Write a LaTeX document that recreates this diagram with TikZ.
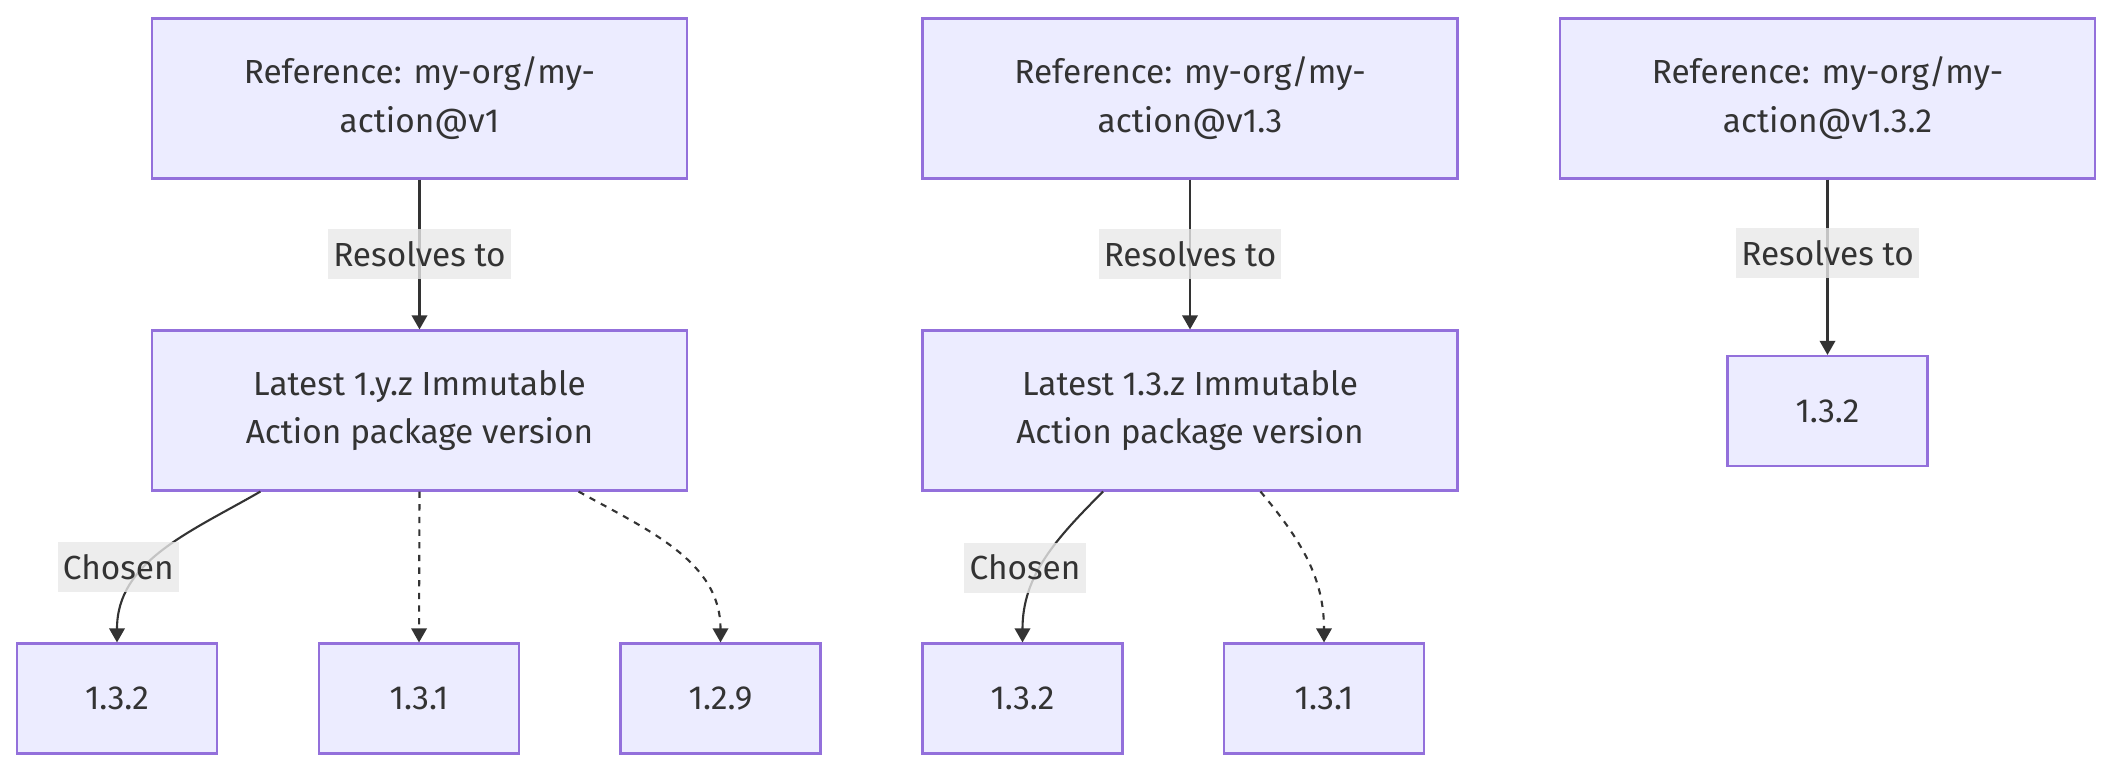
\documentclass[tikz,border=0pt]{standalone}
\usepackage{fontspec}
\setmainfont{Fira Sans}
\usetikzlibrary{arrows.meta}

\definecolor{boxfill}{HTML}{ECECFF}
\definecolor{boxline}{HTML}{9370DB}
\definecolor{ink}{HTML}{333333}
\definecolor{lblfill}{HTML}{E8E8E8}

\begin{document}
\begin{tikzpicture}[
  font=\fontsize{9.5}{13.9}\selectfont,
  text=ink,
  >={Triangle[length=4pt,width=4.4pt]},
  box/.style={
    draw=boxline,
    fill=boxfill,
    line width=0.6pt,
    align=center,
    inner sep=0pt
  },
  refbox/.style={box, minimum width=5.35cm, minimum height=1.6cm},
  verbox/.style={box, minimum width=2cm, minimum height=1.1cm},
  lbl/.style={
    fill=lblfill,
    fill opacity=0.8,
    text opacity=1,
    inner sep=1.5pt,
    minimum height=0.5cm
  },
  arr/.style={->, draw=ink, line width=0.6pt},
  opt/.style={arr, dash pattern=on 1.8pt off 1.8pt}
]

\useasboundingbox (0,0) rectangle (21.12,-7.72);

\def\xA{4.195}
\def\xB{11.9}
\def\xC{18.275}
\def\yT{-0.985}
\def\yM{-4.105}
\def\yL{-6.985}

% v1 -- major tag
\node[refbox] (ref1) at (\xA,\yT) {Reference: my-org/my-\\action@v1};
\node[refbox] (res1) at (\xA,\yM) {Latest 1.y.z Immutable\\Action package version};
\node[verbox] (v1a) at (1.17,\yL) {1.3.2};
\node[verbox] (v1b) at (4.19,\yL) {1.3.1};
\node[verbox] (v1c) at (7.205,\yL) {1.2.9};

\draw[arr] (ref1) -- node[lbl] {Resolves to} (res1);
\draw[arr] (res1.207) to[out=210,in=90]
  node[lbl, pos=0.5, xshift=-0.44cm, yshift=-0.15cm] {Chosen} (v1a.north);
\draw[opt] (res1.south) -- (v1b.north);
\draw[opt] (res1.333) to[out=-29,in=90] (v1c.north);

% v1.3 -- minor tag
\node[refbox] (ref2) at (\xB,\yT) {Reference: my-org/my-\\action@v1.3};
\node[refbox] (res2) at (\xB,\yM) {Latest 1.3.z Immutable\\Action package version};
\node[verbox] (v2a) at (10.225,\yL) {1.3.2};
\node[verbox] (v2b) at (13.24,\yL) {1.3.1};

\draw[arr] (ref2) -- node[lbl] {Resolves to} (res2);
\draw[arr] (res2.223) to[out=225,in=90]
  node[lbl, pos=0.5, xshift=-0.2cm, yshift=-0.08cm] {Chosen} (v2a.north);
\draw[opt] (res2.311) to[out=-50,in=90] (v2b.north);

% v1.3.2 -- exact version
\node[refbox] (ref3) at (\xC,\yT) {Reference: my-org/my-\\action@v1.3.2};
\node[verbox] (v3) at (\xC,-4.11) {1.3.2};

\draw[arr] (ref3) -- node[lbl, pos=0.42] {Resolves to} (v3);

\end{tikzpicture}
\end{document}
